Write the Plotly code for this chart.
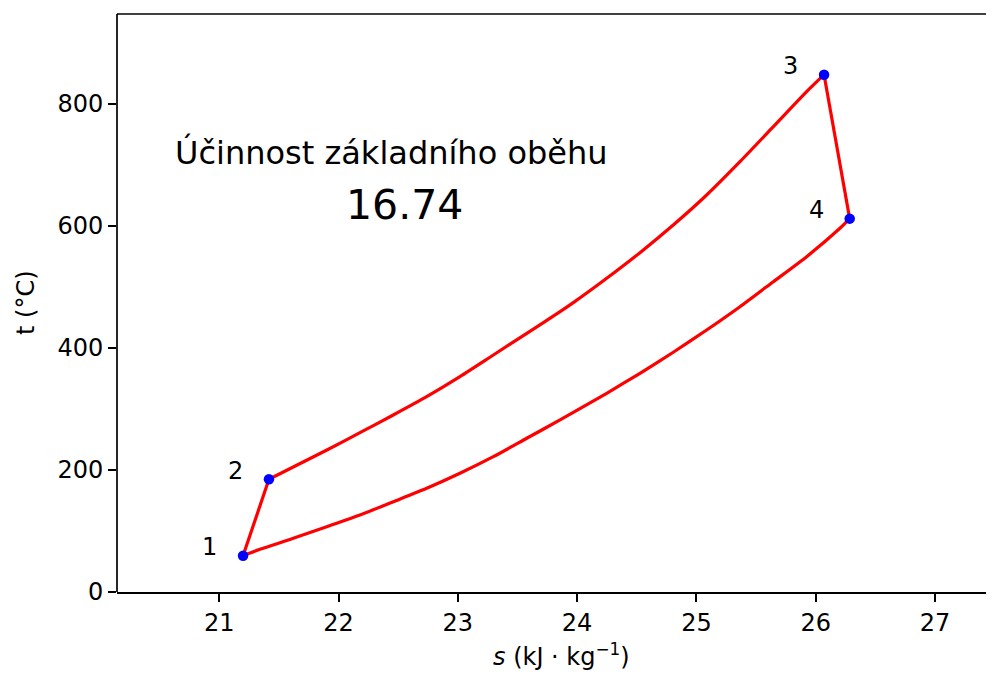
import plotly.graph_objects as go

# Cycle state points (s in kJ/kg/K, t in °C)
state_labels = ["1", "2", "3", "4"]
state_s = [21.20, 21.417, 26.07, 26.285]
state_t = [59.5, 184.8, 848.0, 612.0]

# Upper isobar 2 -> 3
upper_s = [21.417, 21.903, 22.180, 22.459, 22.739, 23.018, 23.298, 23.578, 23.857, 23.968,
           24.248, 24.527, 24.806, 25.086, 25.365, 25.645, 25.924, 26.07]
upper_t = [184.8, 232.8, 261.2, 290.2, 320.2, 353.0, 388.5, 424.0, 459.5, 474.3,
           514.2, 556.3, 601.6, 650.8, 705.4, 762.8, 820.2, 848.0]

# Lower isobar 1 -> 4
lower_s = [21.20, 21.342, 21.621, 21.901, 22.180, 22.459, 22.739, 23.018, 23.298, 23.578,
           23.857, 24.248, 24.527, 24.806, 25.086, 25.365, 25.645, 25.924, 26.203, 26.285]
lower_t = [59.5, 70.0, 88.0, 107.0, 126.2, 148.0, 170.0, 194.6, 221.8, 252.0,
           282.0, 325.7, 358.5, 393.0, 429.5, 467.7, 508.7, 549.7, 596.2, 612.0]

efficiency_title = "Účinnost základního oběhu"
efficiency_value = "16.74"

x_ticks = [21, 22, 23, 24, 25, 26, 27]
y_ticks = [0, 200, 400, 600, 800]

FONT = "DejaVu Sans"
BODY = 8  # default page body margin offsets the figure in the window
W, H = 994 - BODY, 676 - BODY
ML, MR, MT = 117 - BODY, 0, 14 - BODY
MB = H - (592 - BODY)
PW, PH = W - ML - MR, H - MT - MB

fig = go.Figure()

line_style = dict(color="#ff0000", width=3.2)
fig.add_trace(go.Scatter(x=[state_s[0], state_s[1]], y=[state_t[0], state_t[1]],
                         mode="lines", line=line_style, showlegend=False, hoverinfo="skip"))
fig.add_trace(go.Scatter(x=[state_s[2], state_s[3]], y=[state_t[2], state_t[3]],
                         mode="lines", line=line_style, showlegend=False, hoverinfo="skip"))
fig.add_trace(go.Scatter(x=upper_s, y=upper_t, mode="lines",
                         line=dict(color="#ff0000", width=3.2, shape="spline", smoothing=0.6),
                         showlegend=False, hoverinfo="skip"))
fig.add_trace(go.Scatter(x=lower_s, y=lower_t, mode="lines",
                         line=dict(color="#ff0000", width=3.2, shape="spline", smoothing=0.6),
                         showlegend=False, hoverinfo="skip"))
fig.add_trace(go.Scatter(x=state_s, y=state_t, mode="markers",
                         marker=dict(color="#0000ff", size=10.5, line=dict(width=0)),
                         showlegend=False))

annotations = []
label_dx, label_dy = -0.28, 14
for lab, s, t in zip(state_labels, state_s, state_t):
    annotations.append(dict(x=s + label_dx, y=t + label_dy, xref="x", yref="y", text=lab,
                            showarrow=False, font=dict(family=FONT, size=24, color="black"),
                            xanchor="center", yanchor="middle"))

annotations.append(dict(x=22.44, y=721, xref="x", yref="y", text=efficiency_title,
                        showarrow=False, font=dict(family=FONT, size=32, color="black"),
                        xanchor="center", yanchor="middle"))
annotations.append(dict(x=22.557, y=634, xref="x", yref="y", text=efficiency_value,
                        showarrow=False, font=dict(family=FONT, size=41, color="black"),
                        xanchor="center", yanchor="middle"))
# axis titles (window-pixel targets converted to paper coords)
annotations.append(dict(x=(561 - 117) / PW, y=-(655 - 592) / PH,
                        xref="paper", yref="paper",
                        text="<i>s</i> (kJ · kg<sup>−1</sup>)", showarrow=False,
                        font=dict(family=FONT, size=24, color="black"),
                        xanchor="center", yanchor="middle"))
annotations.append(dict(x=-(117 - 26) / PW, y=0.5, xref="paper", yref="paper",
                        text="t (°C)", textangle=-90, showarrow=False,
                        font=dict(family=FONT, size=24, color="black"),
                        xanchor="center", yanchor="middle"))

# left and top spines (no right spine visible in the reference)
spine = dict(color="black", width=1.7)
shapes = [
    dict(type="line", xref="paper", yref="paper", x0=0, x1=0, y0=0, y1=1, line=spine, layer="above"),
    dict(type="line", xref="paper", yref="paper", x0=0, x1=1, y0=1, y1=1, line=spine, layer="above"),
]

x_left = 20.1433
px_per_unit = 119.3
fig.update_layout(
    width=W, height=H,
    margin=dict(l=ML, r=MR, t=MT, b=MB, autoexpand=False),
    paper_bgcolor="white", plot_bgcolor="white",
    font=dict(family=FONT, size=24, color="black"),
    annotations=annotations,
    shapes=shapes,
    xaxis=dict(range=[x_left, x_left + PW / px_per_unit], tickvals=x_ticks,
               ticktext=[str(v) for v in x_ticks],
               showgrid=False, zeroline=False, showline=True, linecolor="black", linewidth=1.7,
               mirror=False, ticks="outside", ticklen=8, tickwidth=1.7, tickcolor="black",
               tickfont=dict(family=FONT, size=24, color="black"), automargin=False),
    yaxis=dict(range=[0, 947.5], tickvals=y_ticks, ticktext=[str(v) for v in y_ticks],
               showgrid=False, zeroline=False, showline=False,
               ticks="outside", ticklen=8, tickwidth=1.7, tickcolor="black",
               tickfont=dict(family=FONT, size=24, color="black"), automargin=False),
)

fig.write_html("out.html")
